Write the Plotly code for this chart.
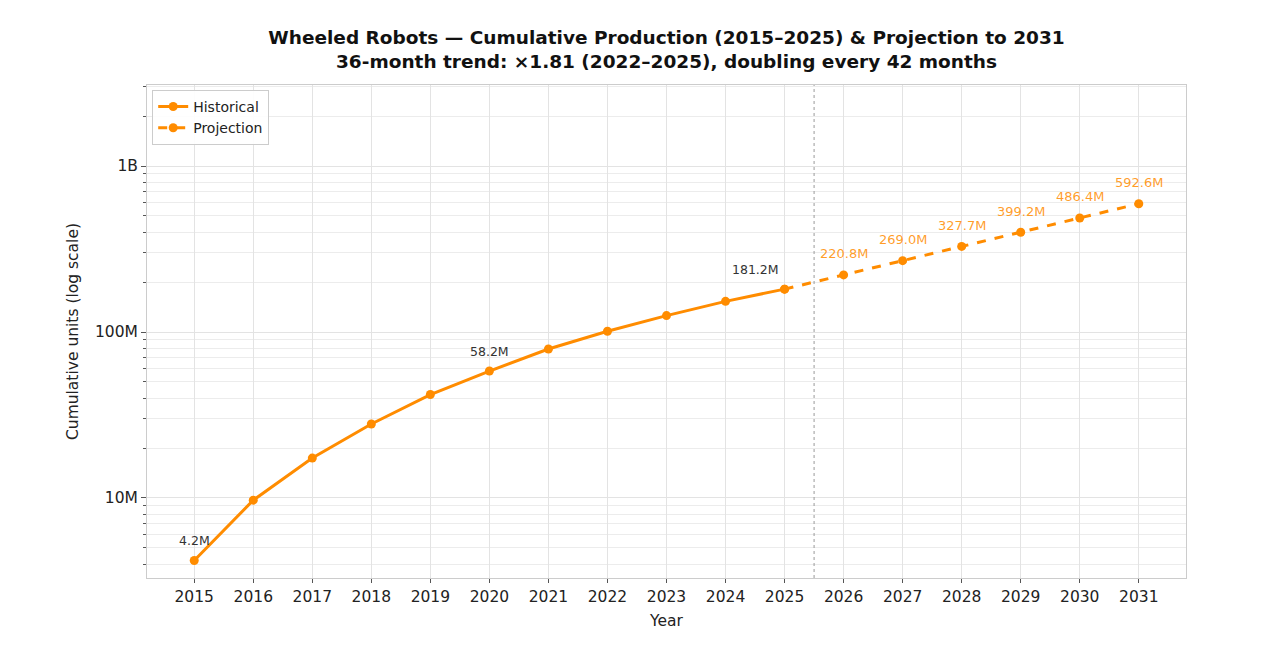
import math
import plotly.graph_objects as go

hist_years = [2015, 2016, 2017, 2018, 2019, 2020, 2021, 2022, 2023, 2024, 2025]
hist_units = [4.2e6, 9.7e6, 17.4e6, 27.9e6, 42.0e6, 58.2e6, 79.0e6, 101.0e6, 125.5e6, 153.0e6, 181.2e6]
proj_years = [2025, 2026, 2027, 2028, 2029, 2030, 2031]
proj_units = [181.2e6, 220.8e6, 269.0e6, 327.7e6, 399.2e6, 486.4e6, 592.6e6]
hist_label_years = [2015, 2020, 2025]
y_tickvals = [1e7, 1e8, 1e9]
y_ticktext = ["10M", "100M", "1B"]

orange = "#FF8C00"
font = "DejaVu Sans"

fig = go.Figure()
fig.add_trace(go.Scatter(x=hist_years, y=hist_units, name="Historical", mode="lines+markers",
                         line=dict(color=orange, width=3), marker=dict(size=9, color=orange)))
fig.add_trace(go.Scatter(x=proj_years, y=proj_units, name="Projection", mode="lines+markers",
                         line=dict(color=orange, width=3, dash="dash"), marker=dict(size=9, color=orange)))

# labels on a few historical points (log axis -> annotation y in log10 units)
for yr, v in zip(hist_years, hist_units):
    if yr in hist_label_years:
        fig.add_annotation(x=yr, y=math.log10(v), text=f"{v/1e6:.1f}M", showarrow=False, yshift=20,
                           xshift=-29 if yr == 2025 else 0,
                           font=dict(family=font, size=12.5, color="#333333"))
# projection labels
for yr, v in zip(proj_years[1:], proj_units[1:]):
    fig.add_annotation(x=yr, y=math.log10(v), text=f"{v/1e6:.1f}M", showarrow=False, yshift=21,
                       font=dict(family=font, size=13, color="rgba(255,140,0,0.85)"))

fig.add_vline(x=2025.5, line=dict(color="#999999", width=1, dash="dot"))

fig.update_layout(
    width=1280, height=658,
    paper_bgcolor="white", plot_bgcolor="white",
    font=dict(family=font, size=15, color="#222222"),
    title=dict(text="<b>Wheeled Robots — Cumulative Production (2015–2025) & Projection to 2031<br>"
                    "36-month trend: ×1.81 (2022–2025), doubling every 42 months</b>",
               x=0.5, xref="paper", xanchor="center", y=0.945, yanchor="top",
               font=dict(family=font, size=18.5, color="#111111")),
    margin=dict(l=139, r=102, t=77, b=88),
    showlegend=True,
    legend=dict(x=0.005, y=0.99, xanchor="left", yanchor="top", bgcolor="rgba(255,255,255,0.9)",
                bordercolor="#cccccc", borderwidth=1, tracegroupgap=0,
                font=dict(family=font, size=14)),
)
fig.update_xaxes(range=[2014.2, 2031.8], tickmode="array", tickvals=list(range(2015, 2032)),
                 title=dict(text="Year", font=dict(size=15.5), standoff=10),
                 showgrid=True, gridcolor="#e3e3e3", ticks="outside", ticklen=4, tickcolor="#555555",
                 showline=True, linecolor="#cccccc", mirror=True, zeroline=False,
                 tickfont=dict(size=15.5))
fig.update_yaxes(type="log", range=[6.518, 9.488], tickmode="array", tickvals=y_tickvals,
                 ticktext=y_ticktext,
                 title=dict(text="Cumulative units (log scale)", font=dict(size=15.5), standoff=12),
                 showgrid=True, gridcolor="#e3e3e3", ticks="outside", ticklen=5, tickcolor="#555555",
                 showline=True, linecolor="#cccccc", mirror=True, zeroline=False,
                 tickfont=dict(size=15.5),
                 minor=dict(dtick="D1", showgrid=True, gridcolor="#ececec", ticks="outside",
                            ticklen=3, tickcolor="#555555"))

fig.write_html("out.html")
